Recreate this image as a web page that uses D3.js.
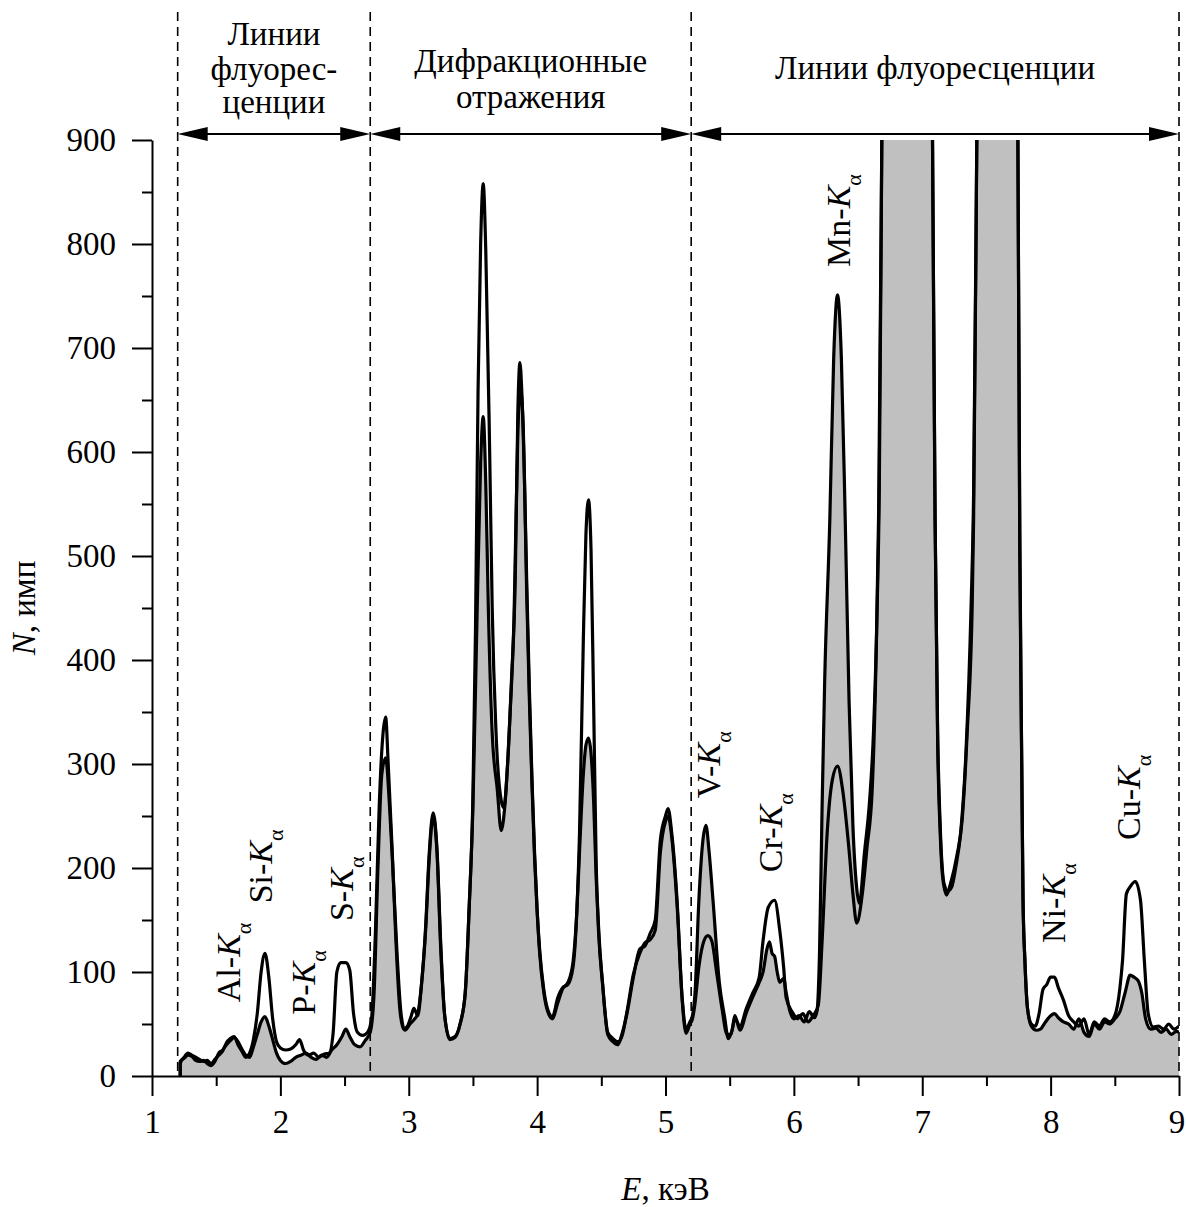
<!DOCTYPE html>
<html><head><meta charset="utf-8">
<script src="https://cdn.jsdelivr.net/npm/d3@7"></script>
<style>
body{margin:0;background:#fff}
svg text{font-family:"Liberation Serif","Times New Roman",serif;fill:#000}
</style>
</head><body>
<svg id="chart" width="1186" height="1207"></svg>
<script>
// ---------- data ----------
const xTickValues = [1,2,3,4,5,6,7,8,9];
const xMinorTicks = [1.5,2.5,3.5,4.5,5.5,6.5,7.5,8.5];
const yTickValues = [0,100,200,300,400,500,600,700,800,900];
const yMinorTicks = [50,150,250,350,450,550,650,750,850];
const regionBounds = [1.2, 2.7, 5.2, 9.0];
const regionTexts = [["Линии","флуорес-","ценции"],["Дифракционные","отражения"],["Линии флуоресценции"]];
const peakElements = ["Al","Si","P","S","V","Cr","Mn","Ni","Cu"];
const peakLabelAt = [[1.685,71],[1.935,166],[2.27,59],[2.565,149],[5.423,267],[5.906,196],[6.436,778],[8.111,128],[8.695,227]];

// sample A (grey filled)
const seriesA = [[1.22,14],[1.25,17],[1.28,20],[1.31,19],[1.34,15],[1.37,14],[1.40,15],[1.43,12],[1.46,10],[1.49,14],[1.52,22],[1.55,25],[1.58,30],[1.61,34],[1.64,37],[1.67,33],[1.70,26],[1.73,20],[1.76,18],[1.79,28],[1.82,40],[1.85,52],[1.88,57],[1.91,48],[1.94,35],[1.97,22],[2.00,15],[2.04,12],[2.08,14],[2.12,18],[2.16,20],[2.20,22],[2.24,18],[2.28,16],[2.32,20],[2.36,18],[2.40,25],[2.44,30],[2.48,38],[2.51,45],[2.54,38],[2.58,30],[2.62,28],[2.66,34],[2.70,42],[2.73,80],[2.76,200],[2.79,290],[2.82,306],[2.85,260],[2.88,190],[2.91,115],[2.94,60],[2.97,44],[3.01,50],[3.04,54],[3.07,60],[3.10,89],[3.13,137],[3.16,210],[3.19,250],[3.22,215],[3.25,120],[3.28,58],[3.32,35],[3.36,37],[3.40,50],[3.44,80],[3.47,160],[3.50,260],[3.53,430],[3.56,590],[3.58,634],[3.60,570],[3.62,450],[3.65,330],[3.69,275],[3.72,236],[3.75,262],[3.79,350],[3.82,440],[3.85,620],[3.87,660],[3.89,630],[3.92,458],[3.94,360],[3.96,280],[3.98,210],[4.00,158],[4.02,118],[4.05,82],[4.08,63],[4.12,55],[4.16,70],[4.20,84],[4.24,90],[4.28,110],[4.31,160],[4.33,215],[4.36,290],[4.38,318],[4.40,325],[4.42,310],[4.44,265],[4.46,190],[4.48,135],[4.51,88],[4.55,42],[4.59,36],[4.63,33],[4.66,38],[4.70,62],[4.75,98],[4.80,118],[4.84,128],[4.88,131],[4.92,140],[4.96,215],[5.00,245],[5.02,250],[5.05,228],[5.09,165],[5.13,75],[5.16,45],[5.19,52],[5.21,58],[5.23,80],[5.26,169],[5.29,225],[5.315,241],[5.34,215],[5.37,169],[5.42,89],[5.46,57],[5.49,36],[5.52,45],[5.54,58],[5.58,44],[5.63,61],[5.68,76],[5.73,90],[5.76,100],[5.79,122],[5.81,129],[5.83,118],[5.85,115],[5.87,100],[5.89,90],[5.92,94],[5.94,80],[5.97,62],[6.00,55],[6.04,58],[6.08,52],[6.12,62],[6.16,56],[6.18,62],[6.20,120],[6.22,260],[6.24,380],[6.28,535],[6.31,690],[6.34,751],[6.37,690],[6.40,535],[6.43,360],[6.46,240],[6.49,180],[6.51,166],[6.55,215],[6.59,265],[6.62,330],[6.65,458],[6.665,560],[6.685,900],[6.72,1500],[6.85,2000],[6.98,1700],[7.05,1300],[7.08,900],[7.10,535],[7.12,320],[7.14,233],[7.16,190],[7.19,174],[7.22,185],[7.27,212],[7.31,245],[7.35,330],[7.39,458],[7.40,535],[7.425,900],[7.46,1400],[7.58,1800],[7.70,1400],[7.745,900],[7.76,500],[7.775,300],[7.785,170],[7.80,110],[7.82,65],[7.85,48],[7.89,44],[7.92,45],[7.96,52],[8.00,58],[8.03,60],[8.06,56],[8.10,52],[8.14,50],[8.18,45],[8.22,55],[8.26,42],[8.30,38],[8.34,50],[8.38,45],[8.42,52],[8.46,50],[8.50,55],[8.54,62],[8.58,80],[8.62,97],[8.65,95],[8.68,92],[8.71,80],[8.74,55],[8.78,45],[8.82,46],[8.86,42],[8.90,45],[8.94,40],[8.98,43],[9.00,42]];

// sample B (line only)
const seriesB = [[1.22,12],[1.25,18],[1.28,22],[1.31,20],[1.34,18],[1.37,16],[1.40,14],[1.43,15],[1.46,12],[1.49,16],[1.52,20],[1.55,24],[1.58,32],[1.61,36],[1.64,38],[1.67,30],[1.70,24],[1.73,18],[1.76,22],[1.79,35],[1.82,60],[1.85,100],[1.88,118],[1.91,95],[1.94,55],[1.97,33],[2.00,27],[2.04,25],[2.08,26],[2.12,30],[2.15,35],[2.18,25],[2.22,20],[2.26,22],[2.30,18],[2.34,21],[2.38,22],[2.41,40],[2.44,100],[2.47,109],[2.51,109],[2.54,102],[2.57,60],[2.60,42],[2.64,39],[2.68,42],[2.71,55],[2.74,137],[2.77,260],[2.80,330],[2.82,345],[2.84,300],[2.87,220],[2.90,130],[2.93,65],[2.96,45],[2.99,48],[3.02,58],[3.04,65],[3.07,58],[3.10,89],[3.13,140],[3.16,215],[3.19,253],[3.22,218],[3.25,125],[3.28,58],[3.32,36],[3.36,38],[3.40,50],[3.44,80],[3.47,160],[3.50,270],[3.52,430],[3.54,660],[3.56,800],[3.58,858],[3.60,794],[3.63,602],[3.65,450],[3.68,330],[3.72,265],[3.74,258],[3.77,300],[3.80,380],[3.83,480],[3.85,640],[3.866,686],[3.88,660],[3.90,580],[3.92,470],[3.94,370],[3.96,285],[3.98,215],[4.00,160],[4.02,121],[4.05,85],[4.08,65],[4.12,57],[4.16,75],[4.20,85],[4.24,88],[4.28,105],[4.31,160],[4.33,233],[4.36,420],[4.38,520],[4.40,554],[4.42,505],[4.44,360],[4.46,205],[4.48,140],[4.51,89],[4.55,40],[4.59,33],[4.63,30],[4.66,40],[4.70,60],[4.75,95],[4.80,122],[4.84,125],[4.88,137],[4.92,150],[4.96,227],[5.00,250],[5.02,257],[5.05,232],[5.09,169],[5.13,73],[5.16,41],[5.19,50],[5.21,55],[5.23,70],[5.26,105],[5.30,130],[5.33,135],[5.36,130],[5.40,98],[5.44,65],[5.48,40],[5.51,40],[5.54,55],[5.58,48],[5.63,65],[5.68,80],[5.73,95],[5.76,130],[5.80,162],[5.85,169],[5.89,140],[5.92,105],[5.94,75],[5.99,61],[6.03,55],[6.07,60],[6.11,52],[6.15,58],[6.19,68],[6.22,130],[6.26,235],[6.30,285],[6.34,298],[6.38,275],[6.43,217],[6.46,175],[6.49,147],[6.53,172],[6.57,220],[6.61,275],[6.64,400],[6.66,540],[6.685,900],[6.72,1500],[6.85,2000],[6.98,1700],[7.05,1300],[7.08,900],[7.10,535],[7.12,330],[7.14,240],[7.17,185],[7.20,178],[7.23,182],[7.26,200],[7.30,235],[7.34,310],[7.38,450],[7.40,560],[7.425,900],[7.46,1400],[7.58,1800],[7.70,1400],[7.745,900],[7.76,520],[7.775,300],[7.785,170],[7.80,110],[7.82,65],[7.85,50],[7.88,48],[7.91,60],[7.94,83],[7.97,88],[8.00,95],[8.03,95],[8.06,85],[8.10,73],[8.14,58],[8.18,52],[8.22,48],[8.26,55],[8.30,40],[8.34,52],[8.38,48],[8.42,55],[8.46,52],[8.50,58],[8.54,85],[8.56,111],[8.59,175],[8.62,182],[8.66,187],[8.70,169],[8.73,111],[8.76,60],[8.80,47],[8.84,48],[8.88,45],[8.92,50],[8.96,45],[9.00,48]];

// ---------- layout ----------
const svg = d3.select("#chart");
const FS = 33;
const FS_PEAK = 34;
const x = d3.scaleLinear().domain([1, 9]).range([152, 1179]);
const y = d3.scaleLinear().domain([0, 900]).range([1076, 140]);

svg.append("defs").append("clipPath").attr("id","plotclip")
  .append("rect").attr("x", x(1)).attr("y", y(900))
  .attr("width", x(9) - x(1)).attr("height", y(0) - y(900));

const plot = svg.append("g").attr("clip-path","url(#plotclip)");
const area = d3.area().x(d => x(d[0])).y0(y(0)).y1(d => y(d[1])).curve(d3.curveMonotoneX);
const line = d3.line().x(d => x(d[0])).y(d => y(d[1])).curve(d3.curveMonotoneX);

plot.append("path").datum(seriesA).attr("d", area).attr("fill", "#c0c0c0");
plot.append("path").datum([[seriesA[0][0], 0]].concat(seriesA)).attr("d", line)
  .attr("fill","none").attr("stroke","#000").attr("stroke-width",3.2).attr("stroke-linejoin","round");
plot.append("path").datum([[seriesB[0][0], 0]].concat(seriesB)).attr("d", line)
  .attr("fill","none").attr("stroke","#000").attr("stroke-width",3.2).attr("stroke-linejoin","round");

// axes
function styleAxis(g){
  g.select(".domain").attr("stroke","#000").attr("stroke-width",2);
  g.selectAll(".tick line").attr("stroke","#000").attr("stroke-width",2);
  g.selectAll(".tick text").attr("font-size",FS).attr("font-family","'Liberation Serif',serif");
}
const gx = svg.append("g").attr("transform",`translate(0,${y(0)})`)
  .call(d3.axisBottom(x).tickValues(xTickValues).tickFormat(d3.format("d")).tickSize(20).tickSizeOuter(0).tickPadding(14));
styleAxis(gx);
// keep the last label inside the page edge
gx.selectAll(".tick text").filter(d => d === 9).attr("dx", -2.5);
const gxm = svg.append("g").attr("transform",`translate(0,${y(0)})`)
  .call(d3.axisBottom(x).tickValues(xMinorTicks).tickFormat("").tickSize(10).tickSizeOuter(0));
styleAxis(gxm); gxm.select(".domain").remove();

const gy = svg.append("g").attr("transform",`translate(${x(1)},0)`)
  .call(d3.axisLeft(y).tickValues(yTickValues).tickFormat(d3.format("d")).tickSize(20).tickSizeOuter(0).tickPadding(16));
styleAxis(gy);
const gym = svg.append("g").attr("transform",`translate(${x(1)},0)`)
  .call(d3.axisLeft(y).tickValues(yMinorTicks).tickFormat("").tickSize(10).tickSizeOuter(0));
styleAxis(gym); gym.select(".domain").remove();

// axis titles
const xt = svg.append("text").attr("x", (x(1)+x(9))/2).attr("y", 1200).attr("text-anchor","middle").attr("font-size",FS);
xt.append("tspan").attr("font-style","italic").text("E");
xt.append("tspan").text(", кэВ");
const yt = svg.append("text").attr("transform",`translate(35,${(y(0)+y(900))/2}) rotate(-90)`).attr("text-anchor","middle").attr("font-size",FS);
yt.append("tspan").attr("font-style","italic").text("N");
yt.append("tspan").text(", имп");

// region separators
svg.selectAll(".sep").data(regionBounds).enter().append("line")
  .attr("x1", d => x(d)).attr("x2", d => x(d)).attr("y1", 12).attr("y2", y(0))
  .attr("stroke","#000").attr("stroke-width",1.6).attr("stroke-dasharray","9,6");

// double arrows
const arrowY = 134, headL = 30, headW = 7;
for (let i = 0; i < regionBounds.length - 1; i++) {
  const xl = x(regionBounds[i]), xr = x(regionBounds[i+1]);
  svg.append("line").attr("x1", xl + 5).attr("x2", xr - 5).attr("y1", arrowY).attr("y2", arrowY)
    .attr("stroke","#000").attr("stroke-width",2);
  svg.append("path").attr("d", `M${xl},${arrowY}L${xl+headL},${arrowY-headW}L${xl+headL},${arrowY+headW}Z`).attr("fill","#000");
  svg.append("path").attr("d", `M${xr},${arrowY}L${xr-headL},${arrowY-headW}L${xr-headL},${arrowY+headW}Z`).attr("fill","#000");
}

// region titles
const regionBaselines = [[45,80,113],[72,108],[79]];
regionTexts.forEach((lines, i) => {
  const cx = (x(regionBounds[i]) + x(regionBounds[i+1])) / 2;
  lines.forEach((t, j) => {
    svg.append("text").attr("x", cx).attr("y", regionBaselines[i][j])
      .attr("text-anchor","middle").attr("font-size",FS).text(t);
  });
});

// peak labels
peakElements.forEach((el, i) => {
  const [e, n] = peakLabelAt[i];
  const t = svg.append("text").attr("transform", `translate(${x(e)},${y(n)}) rotate(-90)`).attr("font-size", FS_PEAK);
  t.append("tspan").text(el + "-");
  t.append("tspan").attr("font-style","italic").text("K");
  t.append("tspan").attr("font-size", 22).attr("dy", 11).text("α");
});
</script>
</body></html>
